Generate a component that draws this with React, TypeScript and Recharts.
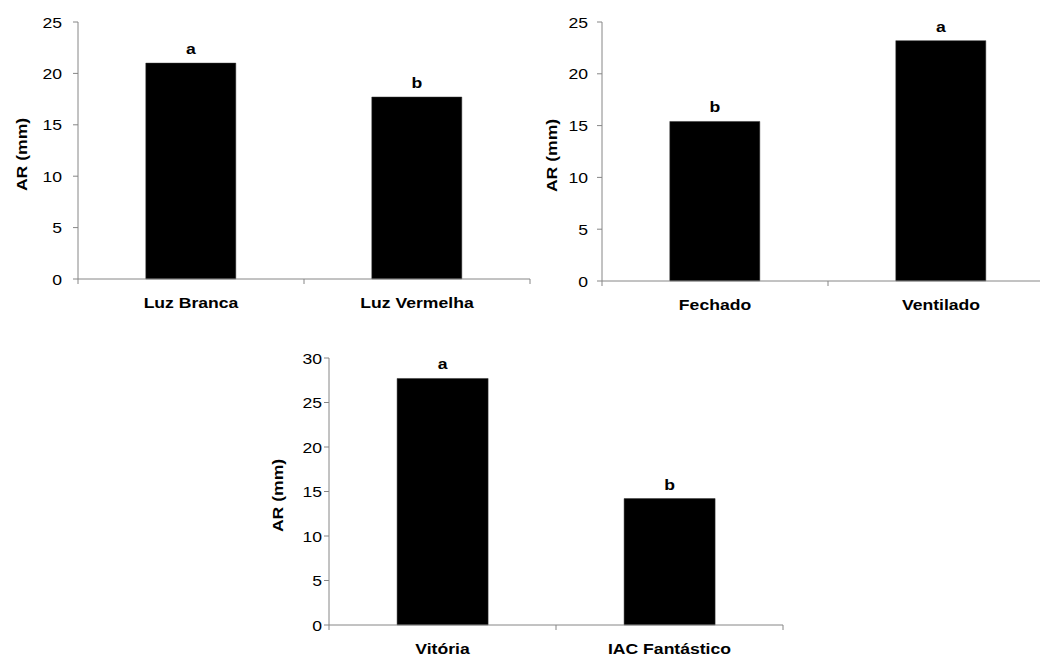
import React from "react";
import { BarChart, Bar, XAxis, YAxis, LabelList, Label } from "recharts";

// painel 1: tipo de luz
const luzCategorias = ["Luz Branca", "Luz Vermelha"];
const luzValores = [21.0, 17.7];
const luzLetras = ["a", "b"];

// painel 2: ambiente
const ambienteCategorias = ["Fechado", "Ventilado"];
const ambienteValores = [15.4, 23.2];
const ambienteLetras = ["b", "a"];

// painel 3: cultivar
const cultivarCategorias = ["Vitória", "IAC Fantástico"];
const cultivarValores = [27.7, 14.2];
const cultivarLetras = ["a", "b"];

const ticks25 = [0, 5, 10, 15, 20, 25];
const ticks30 = [0, 5, 10, 15, 20, 25, 30];

const FONT = "'Liberation Sans', Arial, sans-serif";
const AXIS = "#868686";
const STRETCH = 1.15;
const FS = 15.3;

// número do eixo Y, afastado "gap" px do tracinho
const makeYTick = (gap: number) => (props: any) => {
  const { x, y, payload } = props;
  return (
    <text
      transform={`translate(${x - gap},${y}) scale(${STRETCH},1)`}
      textAnchor="end"
      dominantBaseline="central"
      fontSize={FS}
      fontFamily={FONT}
      fill="#000"
    >
      {payload.value}
    </text>
  );
};

// rótulo da categoria + tracinhos nas divisas entre categorias (estilo Excel)
const XTick = (props: any) => {
  const { x, y, payload, index, width, visibleTicksCount } = props;
  const band = width / visibleTicksCount;
  return (
    <g>
      {index === 0 && <line x1={x - band / 2} x2={x - band / 2} y1={y} y2={y + 5} stroke={AXIS} />}
      <line x1={x + band / 2} x2={x + band / 2} y1={y} y2={y + 5} stroke={AXIS} />
      <text
        transform={`translate(${x},${y + 23}) scale(${STRETCH},1)`}
        textAnchor="middle"
        dominantBaseline="central"
        fontSize={FS}
        fontWeight="bold"
        fontFamily={FONT}
        fill="#000"
      >
        {payload.value}
      </text>
    </g>
  );
};

const Letra = (props: any) => {
  const { x, y, width, value } = props;
  return (
    <text
      transform={`translate(${x + width / 2},${y - 9}) scale(${STRETCH},1)`}
      textAnchor="middle"
      fontSize={FS}
      fontWeight="bold"
      fontFamily={FONT}
      fill="#000"
    >
      {value}
    </text>
  );
};

interface PainelProps {
  left: number;
  top: number;
  width: number;
  height: number;
  axisWidth: number;
  margin: { top: number; right: number; bottom: number; left: number };
  categorias: string[];
  valores: number[];
  letras: string[];
  ticks: number[];
  tickGap: number;
  labelX: number;
}

function Painel(p: PainelProps) {
  const data = p.categorias.map((nome, i) => ({ nome, ar: p.valores[i], letra: p.letras[i] }));
  const max = p.ticks[p.ticks.length - 1];
  const YTick = makeYTick(p.tickGap);
  return (
    <div style={{ position: "absolute", left: p.left, top: p.top }}>
      <BarChart width={p.width} height={p.height} data={data} margin={p.margin} barCategoryGap="30%">
        <XAxis
          dataKey="nome"
          height={30}
          axisLine={{ stroke: AXIS }}
          tickLine={false}
          tickSize={0}
          tickMargin={0}
          tick={<XTick />}
          interval={0}
        />
        <YAxis
          width={p.axisWidth}
          domain={[0, max]}
          ticks={p.ticks}
          tickSize={5}
          tickMargin={0}
          axisLine={{ stroke: AXIS }}
          tickLine={{ stroke: AXIS }}
          tick={<YTick />}
          interval={0}
        >
          <Label
            content={({ viewBox }: any) => {
              const cx = viewBox.x + p.labelX;
              const cy = viewBox.y + viewBox.height / 2 + 4;
              return (
                <text
                  transform={`translate(${cx},${cy}) rotate(-90) scale(${STRETCH},1)`}
                  textAnchor="middle"
                  dominantBaseline="central"
                  fontSize={FS}
                  fontWeight="bold"
                  fontFamily={FONT}
                  fill="#000"
                >
                  AR (mm)
                </text>
              );
            }}
          />
        </YAxis>
        <Bar dataKey="ar" fill="#000" stroke="#333" strokeWidth={0.5} isAnimationActive={false}>
          <LabelList dataKey="letra" content={<Letra />} />
        </Bar>
      </BarChart>
    </div>
  );
}

export default function App() {
  return (
    <div
      style={{
        position: "absolute",
        left: 0,
        top: 0,
        width: 1040,
        height: 657,
        overflow: "hidden",
        background: "#fff",
      }}
    >
      <Painel
        left={0}
        top={0}
        width={540}
        height={320}
        axisWidth={78}
        margin={{ top: 22, right: 10, bottom: 11, left: 0 }}
        categorias={luzCategorias}
        valores={luzValores}
        letras={luzLetras}
        ticks={ticks25}
        tickGap={11}
        labelX={21}
      />
      <Painel
        left={520}
        top={0}
        width={540}
        height={320}
        axisWidth={82}
        margin={{ top: 22, right: 6, bottom: 9, left: 0 }}
        categorias={ambienteCategorias}
        valores={ambienteValores}
        letras={ambienteLetras}
        ticks={ticks25}
        tickGap={9}
        labelX={31}
      />
      <Painel
        left={260}
        top={320}
        width={530}
        height={337}
        axisWidth={69}
        margin={{ top: 38, right: 7, bottom: 2, left: 0 }}
        categorias={cultivarCategorias}
        valores={cultivarValores}
        letras={cultivarLetras}
        ticks={ticks30}
        tickGap={2}
        labelX={17}
      />
    </div>
  );
}
